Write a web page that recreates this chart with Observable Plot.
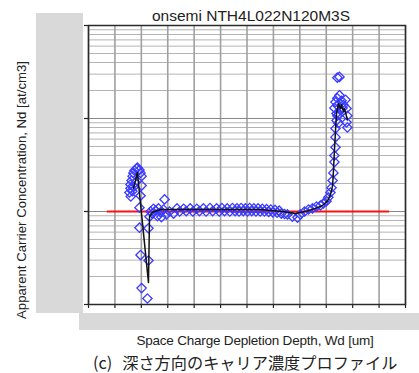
<!DOCTYPE html>
<html>
<head>
<meta charset="utf-8">
<script src="https://cdn.jsdelivr.net/npm/d3@7"></script>
<script src="https://cdn.jsdelivr.net/npm/@observablehq/plot@0.6"></script>
<style>
  html, body { margin: 0; padding: 0; background: white; }
  #chart svg { display: block; }
</style>
</head>
<body>
<div id="chart"></div>
<script>
// ---- labels ----
const titleText = "onsemi NTH4L022N120M3S";
const yLabel = "Apparent Carrier Concentration, Nd [at/cm3]";
const xLabel = "Space Charge Depletion Depth, Wd [um]";
const captionPrefix = "(c)";
const captionText = "深さ方向のキャリア濃度プロファイル";

// ---- axes ----
const xTicks = [0, 1, 2, 3, 4, 5, 6, 7, 8, 9, 10, 11, 12];
const yDecades = [1e15, 1e16, 1e17, 1e18];
const yMinorMult = [2, 3, 4, 5, 6, 7, 8, 9];

// ---- measured points (depth um, Nd at/cm3) ----
const depth = [
  1.55, 1.59, 1.59, 1.63, 1.67, 1.70, 1.74, 1.82, 1.85, 1.93, 1.97, 2.01, 2.01, 1.60, 1.66, 1.72, 1.78,
  1.97, 1.93, 1.93, 1.97, 2.01, 2.23, 2.27, 2.27,
  2.31, 2.35, 2.42, 2.46, 2.54, 2.61, 2.65, 2.73, 2.76, 2.84, 2.88, 2.95, 3.07, 3.22,
  3.35, 3.45, 3.60, 3.70, 3.85, 3.95, 4.10, 4.20, 4.35, 4.45, 4.60, 4.70, 4.85, 4.95, 5.05, 5.15,
  5.25, 5.35, 5.45, 5.55, 5.62, 5.70, 5.78, 5.86, 5.94, 6.02, 6.10, 6.18, 6.26, 6.34, 6.42, 6.50,
  6.58, 6.66, 6.74, 6.82, 6.90, 6.98, 7.06, 7.14, 7.22, 7.30, 7.42,
  7.53, 7.72, 7.91, 8.02, 8.18, 8.33, 8.48, 8.63, 8.78, 8.89, 9.01, 9.08, 9.16, 9.20, 9.24, 9.27,
  9.31, 9.31, 9.35, 9.35, 9.35, 9.39, 9.39, 9.42, 9.42, 9.50, 9.58, 9.65, 9.73, 9.77, 9.80, 9.77,
  9.46, 9.42, 9.54, 9.42, 9.50, 9.80, 9.35, 9.31, 9.48, 9.62
];
const nd = [
  1.60e16, 1.78e16, 1.95e16, 2.15e16, 2.40e16, 2.60e16, 2.76e16, 2.90e16, 2.96e16, 2.80e16, 2.60e16, 2.40e16, 1.90e16, 1.45e16, 1.65e16, 1.85e16, 2.05e16,
  1.48e16, 1.10e16, 6.7e15, 3.4e15, 1.5e15, 1.16e15, 2.97e15, 6.6e15,
  8.8e15, 1.00e16, 9.5e15, 1.07e16, 1.02e16, 8.9e15, 1.08e16, 9.8e15, 8.7e15, 1.05e16, 1.35e16, 9.3e15, 1.00e16, 9.5e15,
  1.08e16, 1.00e16, 1.07e16, 1.01e16, 1.08e16, 1.00e16, 1.07e16, 1.01e16, 1.08e16, 1.00e16, 1.09e16, 1.01e16, 1.08e16, 1.00e16, 1.09e16, 1.01e16,
  1.08e16, 1.00e16, 1.09e16, 1.01e16, 1.08e16, 1.00e16, 1.09e16, 1.01e16, 1.08e16, 1.00e16, 1.09e16, 1.01e16, 1.08e16, 1.00e16, 1.08e16, 1.00e16,
  1.07e16, 1.00e16, 1.06e16, 9.9e15, 1.05e16, 9.8e15, 1.04e16, 9.7e15, 1.02e16, 9.5e15, 9.4e15,
  9.3e15, 8.8e15, 8.6e15, 9.3e15, 1.00e16, 1.05e16, 1.08e16, 1.13e16, 1.16e16, 1.22e16, 1.29e16, 1.42e16, 1.60e16, 1.80e16, 2.15e16, 2.60e16,
  3.4e16, 4.0e16, 4.9e16, 6.3e16, 7.8e16, 9.5e16, 1.13e17, 1.38e17, 1.65e17, 1.78e17, 1.55e17, 1.40e17, 1.59e17, 1.28e17, 1.07e17, 9.1e16,
  8.9e16, 1.07e17, 1.23e17, 2.75e17, 2.80e17, 8.0e16, 1.50e17, 1.30e17, 1.10e17, 1.30e17
];

// ---- fitted curve (black) ----
const fitDepth = [1.70, 1.78, 1.85, 2.27, 2.31, 2.42, 2.73, 3.48, 4.99, 6.51, 7.34, 7.83, 8.21, 8.59, 8.86, 9.05, 9.16, 9.24, 9.27, 9.31, 9.35, 9.39, 9.46, 9.54, 9.58, 9.65, 9.69, 9.77, 9.80];
const fitNd = [1.78e16, 2.15e16, 2.63e16, 1.72e15, 8.8e15, 9.8e15, 1.05e16, 1.05e16, 1.05e16, 1.05e16, 1.0e16, 9.5e15, 1.0e16, 1.08e16, 1.16e16, 1.3e16, 1.52e16, 1.9e16, 2.65e16, 4.5e16, 7.4e16, 1.13e17, 1.44e17, 1.27e17, 1.41e17, 1.19e17, 1.27e17, 1.05e17, 9.8e16];

// ---- reference level (red) ----
const refDepth = [0.72, 11.35];
const refNd = [1e16, 1e16];

const points = depth.map((d, i) => ({d, n: nd[i]}));
const fit = fitDepth.map((d, i) => ({d, n: fitNd[i]}));
const ref = refDepth.map((d, i) => ({d, n: refNd[i]}));
const yMinor = [];
for (let k = 0; k < yDecades.length - 1; k++) for (const m of yMinorMult) yMinor.push(yDecades[k] * m);

const W = 419, H = 373;
const chart = Plot.plot({
  width: W, height: H,
  marginLeft: 88, marginRight: 14, marginTop: 25, marginBottom: 69,
  style: {background: "transparent", fontFamily: "Liberation Sans, Arial, sans-serif"},
  x: {domain: [0, 12], axis: null},
  y: {type: "log", domain: [1e15, 1e18], axis: null},
  marks: [
    Plot.ruleY(yMinor, {y: d => d, stroke: "#b4b4b4", strokeWidth: 1}),
    Plot.ruleX(xTicks, {x: d => d, stroke: "#a0a0a0", strokeWidth: 1.6}),
    Plot.ruleY(yDecades, {y: d => d, stroke: "#888", strokeWidth: 1.2}),
    Plot.axisY({ticks: yDecades, tickSize: 4, tickFormat: () => "", label: null, stroke: "#222", strokeWidth: 1.2}),
    Plot.axisX({ticks: xTicks, tickSize: 4, tickFormat: () => "", label: null, stroke: "#222", strokeWidth: 1.2}),
    Plot.frame({stroke: "#2a2a2a", strokeWidth: 1.5}),
    Plot.line(ref, {x: "d", y: "n", stroke: "#ff1010", strokeWidth: 2}),
    Plot.dot(points, {x: "d", y: "n", symbol: "diamond2", r: 4.2, stroke: "#3a3aff", strokeWidth: 1.3, fill: "none"}),
    Plot.line(fit, {x: "d", y: "n", stroke: "#111", strokeWidth: 1.5})
  ]
});

const svg = d3.select(chart);
svg.attr("width", W).attr("height", H);
const bg = svg.insert("g", ":first-child");
bg.append("rect").attr("x", 0).attr("y", 0).attr("width", W).attr("height", H).attr("fill", "white");
bg.append("rect").attr("x", 36).attr("y", 13).attr("width", 47).attr("height", 300).attr("fill", "#d9d9d9");
bg.append("rect").attr("x", 79).attr("y", 313).attr("width", 340).attr("height", 17).attr("fill", "#d9d9d9");
bg.append("rect").attr("x", 83).attr("y", 13).attr("width", 336).attr("height", 300).attr("fill", "white");

const fg = svg.append("g").attr("font-family", "Liberation Sans, Arial, sans-serif").attr("fill", "#222");
fg.append("text").attr("x", 251).attr("y", 21).attr("text-anchor", "middle").attr("font-size", 15.5).text(titleText);
fg.append("text").attr("transform", "translate(26,190) rotate(-90)").attr("text-anchor", "middle").attr("font-size", 13.2).text(yLabel);
fg.append("text").attr("x", 255).attr("y", 345).attr("text-anchor", "middle").attr("font-size", 13.5).attr("letter-spacing", -0.2).text(xLabel);
const cap = fg.append("text").attr("x", 93).attr("y", 369).attr("text-anchor", "start")
  .attr("font-family", "Noto Sans CJK JP, sans-serif").attr("font-size", 16.2);
cap.append("tspan").text(captionPrefix);
cap.append("tspan").attr("dx", 10).text(captionText);

document.getElementById("chart").appendChild(chart);
</script>
</body>
</html>
